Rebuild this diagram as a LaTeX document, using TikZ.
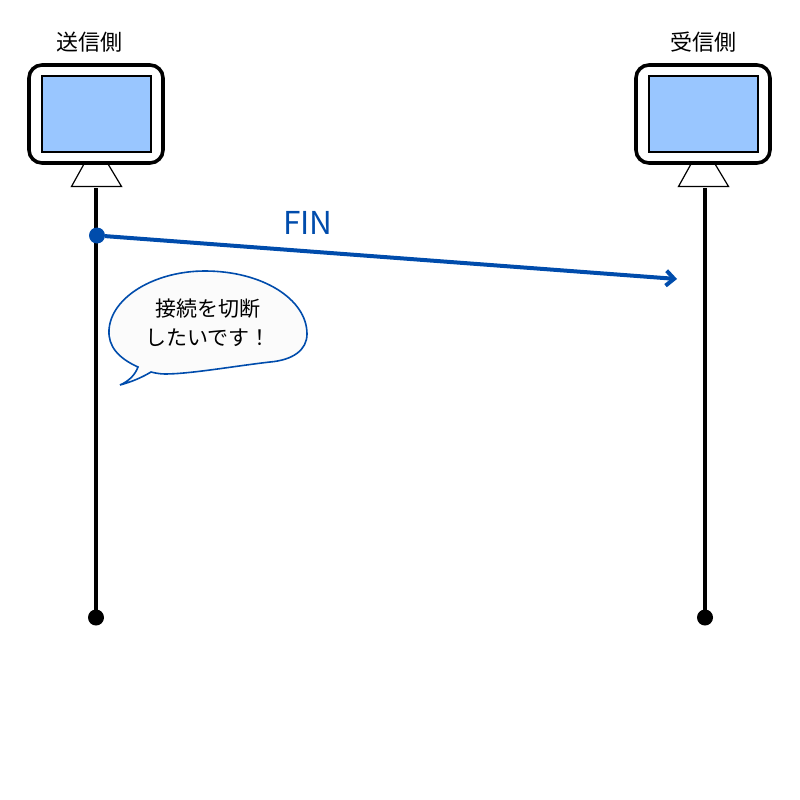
\documentclass[tikz,border=0pt]{standalone}
\usepackage{fontspec}
\setmainfont{Noto Sans CJK JP}
\usetikzlibrary{arrows.meta}
\definecolor{finblue}{RGB}{0,76,172}
\definecolor{screenblue}{RGB}{153,198,255}
\definecolor{bubblefill}{RGB}{251,251,251}
\begin{document}
\begin{tikzpicture}[x=1pt,y=-1pt]
	\tikzstyle{body node}=[draw,line width=3.6pt,rounded corners=13pt,minimum width=134pt,minimum height=98pt,inner sep=0,outer sep=0]
	\tikzstyle{screen node}=[draw,line width=2pt,fill=screenblue,minimum width=109pt,minimum height=76pt,inner sep=0,outer sep=0]
	\tikzstyle{end node}=[circle,fill=black,minimum size=16pt,inner sep=0,outer sep=0]
	\tikzstyle{life line}=[line width=4pt]
	\tikzstyle{stand}=[line width=1.2pt,line join=miter]
	\useasboundingbox(0,0)rectangle(800,800);
	% sender
	\node(sendname)at(89,42){\fontsize{22pt}{26pt}\selectfont 送信側};
	\node(sendbody)[body node]at(96,114){};
	\node(sendscreen)[screen node]at(96.5,114){};
	\draw[stand](84,164)--(108,164)--(121.5,186.5)--(71.5,186.5)--cycle;
	\coordinate(sendfoot)at(96,188);
	\node(sendend)[end node]at(96,617.5){};
	\draw[life line](sendfoot)--(sendend);
	% receiver
	\node(recvname)at(703,42){\fontsize{22pt}{26pt}\selectfont 受信側};
	\node(recvbody)[body node]at(703,114){};
	\node(recvscreen)[screen node]at(703.5,114){};
	\draw[stand](691,164)--(715,164)--(728.5,186.5)--(678.5,186.5)--cycle;
	\coordinate(recvfoot)at(705,188);
	\node(recvend)[end node]at(705,617.5){};
	\draw[life line](recvfoot)--(recvend);
	% message
	\node(findot)[circle,fill=finblue,minimum size=16pt,inner sep=0,outer sep=0]at(97,235.5){};
	\coordinate(finhead)at(677,279);
	\draw[finblue,line width=4pt,-{Straight Barb[length=8pt,width=15pt,line width=4pt]}](findot)--(finhead);
	\node(finlabel)[text=finblue]at(308,223){\fontsize{31.5pt}{36pt}\selectfont FIN};
	% balloon
	\draw[finblue,line width=1.6pt,fill=bubblefill](120,385)
		.. controls (129,381) and (135,375) .. (138,367)
		.. controls (118,358) and (108,346) .. (109,330)
		.. controls (111,297) and (155,271) .. (205,271)
		.. controls (262,271) and (307,299) .. (307,334)
		.. controls (307,350) and (293,360) .. (270,362)
		.. controls (235,366) and (190,374) .. (165,374)
		.. controls (160,374) and (155,373) .. (151,372)
		.. controls (141,378) and (131,382) .. (120,385)--cycle;
	\node(balloontext)[align=center,font=\fontsize{21pt}{29pt}\selectfont]at(208,322.5){接続を切断\\したいです！};
\end{tikzpicture}
\end{document}
